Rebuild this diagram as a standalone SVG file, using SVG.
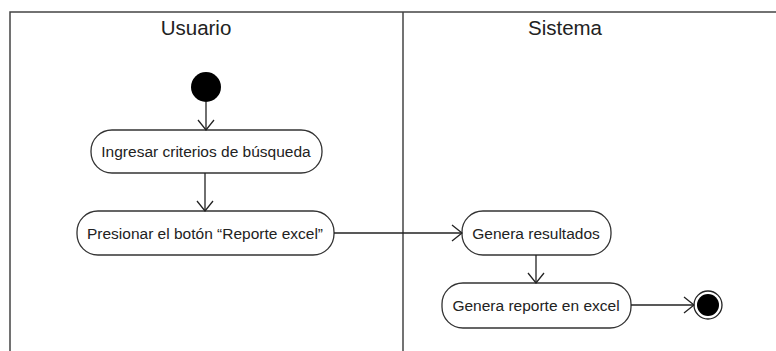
<svg xmlns="http://www.w3.org/2000/svg" width="776" height="351" viewBox="0 0 776 351">
<style>
.lane{fill:none;stroke:#444;stroke-width:1.5}
.act{fill:#fff;stroke:#333;stroke-width:1.3}
.t{font-family:"Liberation Sans",Arial,sans-serif;font-size:15.5px;fill:#222;text-anchor:middle}
.h{font-family:"Liberation Sans",Arial,sans-serif;font-size:20.5px;fill:#222;text-anchor:middle}
.c{fill:none;stroke:#222;stroke-width:1.3}
</style>
<defs>
<marker id="open" markerWidth="12" markerHeight="18" refX="11" refY="9" orient="auto" markerUnits="userSpaceOnUse">
<path d="M1,1 L11,9 L1,17" fill="none" stroke="#222" stroke-width="1.3"/>
</marker>
</defs>
<rect width="776" height="351" fill="#fff"/>
<g id="lanes">
<path class="lane" d="M10,352 V12 H777"/>
<line class="lane" x1="403" y1="12" x2="403" y2="352"/>
<text class="h" x="196" y="35">Usuario</text>
<text class="h" x="565" y="35">Sistema</text>
</g>
<g id="start"><circle cx="206" cy="87" r="15" fill="#000"/></g>
<g id="a1"><rect class="act" x="91" y="130" width="231" height="43" rx="21"/><text class="t" x="206" y="157">Ingresar criterios de búsqueda</text></g>
<g id="a2"><rect class="act" x="77" y="211" width="257" height="44" rx="21"/><text class="t" x="205" y="238.5">Presionar el botón “Reporte excel”</text></g>
<g id="a3"><rect class="act" x="462" y="211" width="149" height="44" rx="21"/><text class="t" x="536" y="238.5">Genera resultados</text></g>
<g id="a4"><rect class="act" x="442" y="283" width="189" height="45" rx="21"/><text class="t" x="536" y="311">Genera reporte en excel</text></g>
<g id="end"><circle cx="708" cy="305" r="14" fill="#fff" stroke="#222" stroke-width="1.3"/><circle cx="708" cy="305" r="11" fill="#000"/></g>
<g id="connectors">
<line class="c" x1="206" y1="102" x2="206" y2="130" marker-end="url(#open)"/>
<line class="c" x1="205" y1="173" x2="205" y2="211" marker-end="url(#open)"/>
<line class="c" x1="334" y1="233" x2="462" y2="233" marker-end="url(#open)"/>
<line class="c" x1="536" y1="255" x2="536" y2="283" marker-end="url(#open)"/>
<line class="c" x1="631" y1="305" x2="694" y2="305" marker-end="url(#open)"/>
</g>
</svg>
